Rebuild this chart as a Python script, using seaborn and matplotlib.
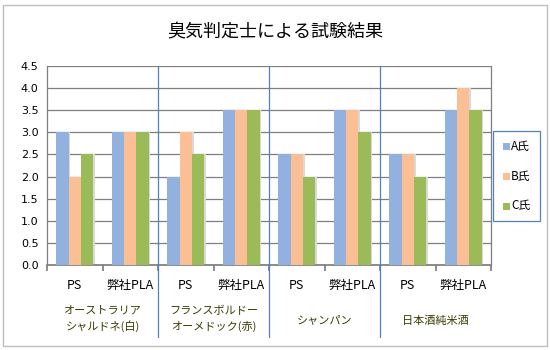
import matplotlib
matplotlib.use("Agg")
import matplotlib.pyplot as plt
import seaborn as sns
import pandas as pd
from matplotlib.patches import Rectangle
from matplotlib.lines import Line2D

sns.set_theme(style="white")
plt.rcParams['font.family'] = ['Noto Sans CJK JP', 'DejaVu Sans']

title = "臭気判定士による試験結果"
groups = ["オーストラリア\nシャルドネ(白)", "フランスボルドー\nオーメドック(赤)", "シャンパン", "日本酒純米酒"]
products = ["PS", "弊社PLA"]
persons = ["A氏", "B氏", "C氏"]
a_vals = [3.0, 3.0, 2.0, 3.5, 2.5, 3.5, 2.5, 3.5]
b_vals = [2.0, 3.0, 3.0, 3.5, 2.5, 3.5, 2.5, 4.0]
c_vals = [2.5, 3.0, 2.5, 3.5, 2.0, 3.0, 2.0, 3.5]
colors = ["#93B1DF", "#FBBF95", "#9BBB59"]

rows = []
for i in range(8):
    for p, vals in zip(persons, [a_vals, b_vals, c_vals]):
        rows.append({"cat": i, "person": p, "value": vals[i]})
df = pd.DataFrame(rows)

fig = plt.figure(figsize=(5.5, 3.5), dpi=100)
fig.patch.set_facecolor("white")
ax = fig.add_axes([47/550, 1-265/350, 444/550, 199/350])

sns.barplot(data=df, x="cat", y="value", hue="person", palette=colors,
            width=0.66, ax=ax, saturation=1, edgecolor="none", legend=False)
for bar in list(ax.patches):
    bar.set_zorder(3)
    x, y = bar.get_x(), bar.get_y()
    w, h = bar.get_width(), bar.get_height()
    sh = Rectangle((x + w, y), 0.03, h, facecolor="#D9D9D9", edgecolor="none", zorder=2)
    ax.add_patch(sh)

ax.set_xlim(-0.5, 7.5)
ax.set_ylim(0, 4.5)
ticks = [i * 0.5 for i in range(10)]
ax.set_yticks(ticks)
ax.set_yticklabels([f"{t:.1f}" for t in ticks], fontsize=8, color="black", family=["DejaVu Sans"])
ax.yaxis.grid(True, color="#7F7F7F", linewidth=0.9, zorder=0)
ax.set_axisbelow(True)
ax.set_xlabel("")
ax.set_ylabel("")
for s in ["top", "right", "left"]:
    ax.spines[s].set_visible(False)
ax.spines["bottom"].set_color("#7F7F7F")
ax.plot([-0.5, -0.5], [0, 4.5], color="#7F7F7F", lw=0.9, clip_on=False, zorder=1)
ax.plot([7.5, 7.5], [0, 4.5], color="#7F7F7F", lw=0.9, clip_on=False, zorder=1)

ax.set_xticks([i - 0.5 for i in range(9)])
ax.set_xticklabels([])
ax.tick_params(axis="x", length=4, color="#7F7F7F", direction="out", bottom=True)
ax.tick_params(axis="y", length=0, pad=6)

trans = ax.get_xaxis_transform()
for i in range(8):
    ax.text(i, -0.105, products[i % 2], transform=trans, ha="center", va="center",
            fontsize=9, color="black")
for g in range(4):
    ax.text(2 * g + 0.5, -0.27 if "\n" in groups[g] else -0.28, groups[g], transform=trans,
            ha="center", va="center", fontsize=8, color="#3A3A00", linespacing=1.55)
for b in [1.5, 3.5, 5.5]:
    ax.add_line(Line2D([b, b], [1.0, -0.36], transform=trans, color="#4F81BD",
                       lw=0.9, clip_on=False, zorder=5))

# legend box
fig.patches.append(Rectangle((493/550, 1-221/350), 47/550, 90/350, transform=fig.transFigure,
                             facecolor="white", edgecolor="#4F81BD", lw=0.9))
for k, (p, c) in enumerate(zip(persons, colors)):
    yy = 1 - (147 + k * 29.5) / 350
    fig.patches.append(Rectangle((503/550, yy - 3.5/350), 7/550, 7/350, transform=fig.transFigure,
                                 facecolor=c, edgecolor="none"))
    fig.text(511/550, yy, p, fontsize=8.5, va="center", ha="left", color="black")

fig.text(0.5, 1 - 32/350, title, fontsize=13, ha="center", va="center", color="black")
fig.patches.append(Rectangle((3/550, 4/350), 544/550, 341/350, transform=fig.transFigure,
                             facecolor="none", edgecolor="#BFBFBF", lw=1.0))

fig.savefig("out.png", dpi=100, facecolor="white")
